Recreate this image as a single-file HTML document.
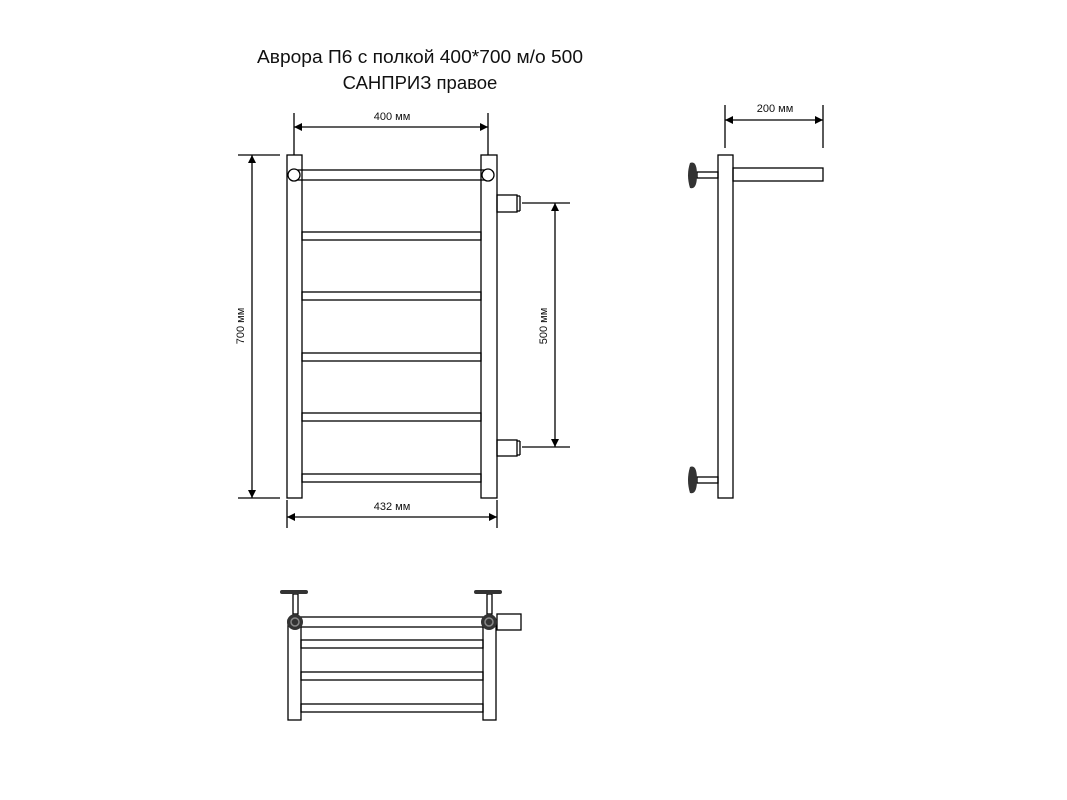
<!DOCTYPE html>
<html><head><meta charset="utf-8"><style>
html,body{margin:0;padding:0;background:#fff;width:1067px;height:800px;overflow:hidden}
svg{display:block}
text{font-family:"Liberation Sans",sans-serif;fill:#111}
</style></head><body>
<svg width="1067" height="800" viewBox="0 0 1067 800">
<defs>
<marker id="a" viewBox="0 0 10 10" refX="10" refY="5" markerWidth="10" markerHeight="8" orient="auto-start-reverse" markerUnits="userSpaceOnUse"><path d="M0,0L10,5L0,10z" fill="#000"/></marker>
</defs>
<text x="420" y="63" font-size="18.5" text-anchor="middle" textLength="326" lengthAdjust="spacingAndGlyphs">Аврора П6 с полкой 400*700 м/о 500</text>
<text x="420" y="89" font-size="18.5" text-anchor="middle">САНПРИЗ правое</text>
<g stroke="#000" stroke-width="1.3" fill="none">
<rect x="287" y="155" width="15" height="343"/>
<rect x="481" y="155" width="16" height="343"/>
<rect x="294" y="170" width="194" height="10"/>
<g fill="#fff"><circle cx="294" cy="175" r="6"/><circle cx="488" cy="175" r="6"/></g>
<rect x="302" y="232" width="179" height="8"/>
<rect x="302" y="292" width="179" height="8"/>
<rect x="302" y="353" width="179" height="8"/>
<rect x="302" y="413" width="179" height="8"/>
<rect x="302" y="474" width="179" height="8"/>
<rect x="497" y="195" width="20" height="17"/><line x1="517" y1="196" x2="520" y2="196"/><line x1="517" y1="211" x2="520" y2="211"/><line x1="520" y1="196" x2="520" y2="211"/>
<rect x="497" y="440" width="20" height="16"/><line x1="517" y1="441" x2="520" y2="441"/><line x1="517" y1="455" x2="520" y2="455"/><line x1="520" y1="441" x2="520" y2="455"/>
<line x1="294" y1="113" x2="294" y2="155"/><line x1="488" y1="113" x2="488" y2="155"/>
<line x1="294" y1="127" x2="488" y2="127" marker-start="url(#a)" marker-end="url(#a)"/>
<line x1="238" y1="155" x2="280" y2="155"/><line x1="238" y1="498" x2="280" y2="498"/>
<line x1="252" y1="155" x2="252" y2="498" marker-start="url(#a)" marker-end="url(#a)"/>
<line x1="522" y1="203" x2="570" y2="203"/><line x1="522" y1="447" x2="570" y2="447"/>
<line x1="555" y1="203" x2="555" y2="447" marker-start="url(#a)" marker-end="url(#a)"/>
<line x1="287" y1="500" x2="287" y2="528"/><line x1="497" y1="500" x2="497" y2="528"/>
<line x1="287" y1="517" x2="497" y2="517" marker-start="url(#a)" marker-end="url(#a)"/>
<rect x="718" y="155" width="15" height="343"/>
<rect x="733" y="168" width="90" height="13"/>
<line x1="725" y1="105" x2="725" y2="148"/><line x1="823" y1="105" x2="823" y2="148"/>
<line x1="725" y1="120" x2="823" y2="120" marker-start="url(#a)" marker-end="url(#a)"/>
<rect x="697" y="172" width="21" height="6"/>
<rect x="697" y="477" width="21" height="6"/>
<rect x="288" y="620" width="13" height="100"/>
<rect x="483" y="620" width="13" height="100"/>
<rect x="295" y="617" width="194" height="10"/>
<rect x="301" y="640" width="182" height="8"/>
<rect x="301" y="672" width="182" height="8"/>
<rect x="301" y="704" width="182" height="8"/>
<rect x="497" y="614" width="24" height="16"/>
<rect x="293" y="594" width="5" height="20"/>
<rect x="487" y="594" width="5" height="20"/>
</g>
<g fill="#333">
<path d="M690,163 Q697,160 697,175 Q697,190 690,188 Q686,175 690,163z"/>
<path d="M690,467 Q697,464 697,480 Q697,495 690,493 Q686,480 690,467z"/>
<rect x="280" y="590" width="28" height="4" rx="2"/>
<rect x="474" y="590" width="28" height="4" rx="2"/>
<circle cx="295" cy="622" r="8"/><circle cx="489" cy="622" r="8"/>
</g>
<g fill="none" stroke="#888" stroke-width="1.5"><circle cx="295" cy="622" r="4"/><circle cx="489" cy="622" r="4"/></g>
<text x="392" y="120" font-size="11" text-anchor="middle">400 мм</text>
<text x="392" y="510" font-size="11" text-anchor="middle">432 мм</text>
<text x="775" y="112" font-size="11" text-anchor="middle">200 мм</text>
<text x="0" y="0" font-size="11" text-anchor="middle" transform="translate(244,326) rotate(-90)">700 мм</text>
<text x="0" y="0" font-size="11" text-anchor="middle" transform="translate(547,326) rotate(-90)">500 мм</text>
</svg>
</body></html>
